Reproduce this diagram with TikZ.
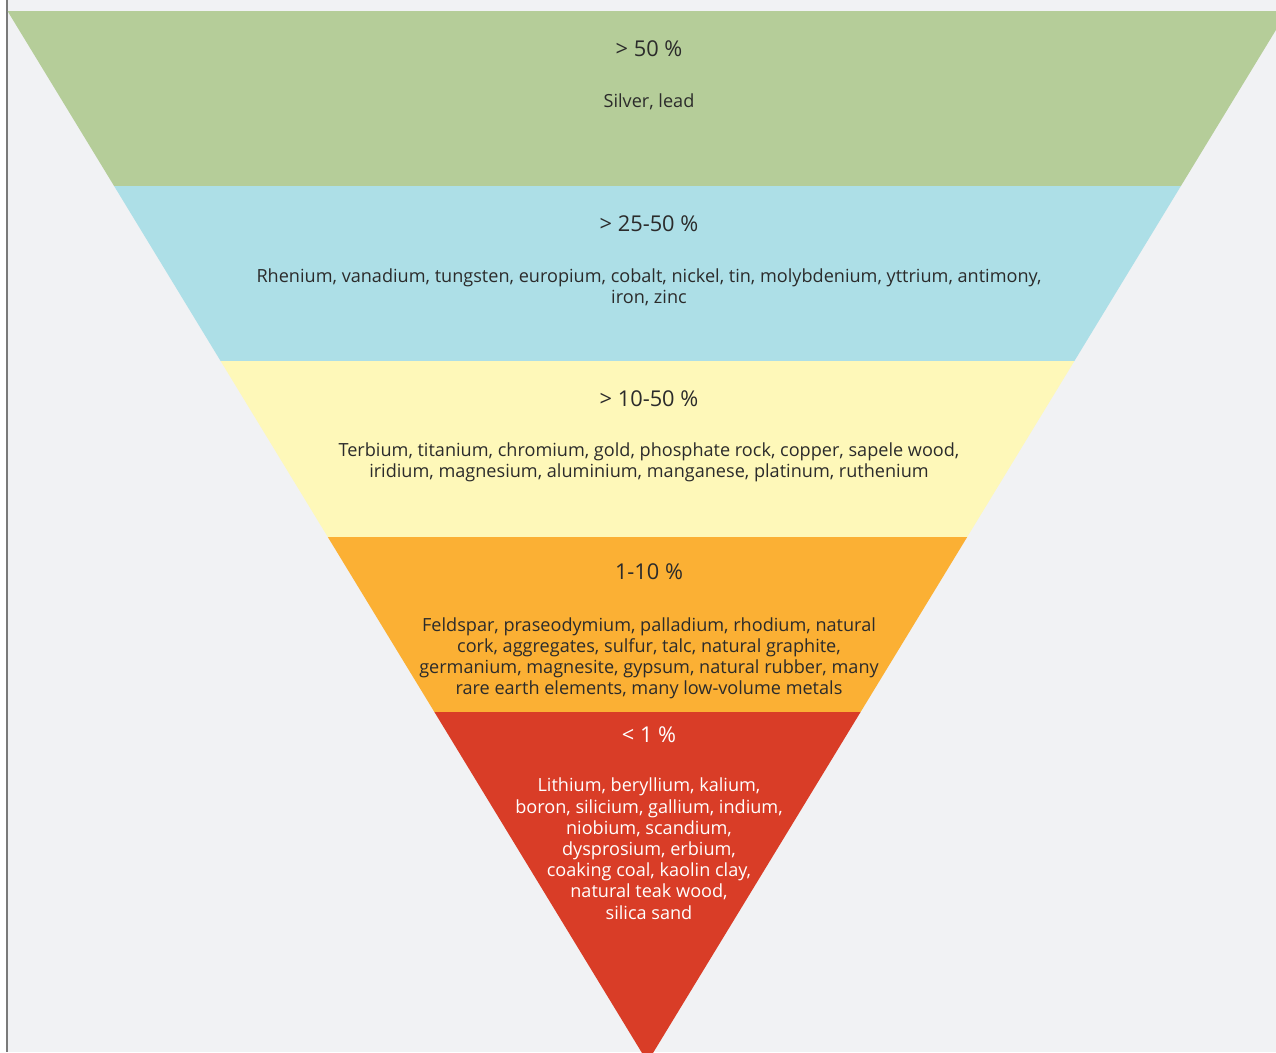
\documentclass[tikz,border=0pt]{standalone}
\usepackage{fontspec}
\setmainfont{Open Sans}
\definecolor{bgc}{HTML}{F1F2F4}
\definecolor{edgec}{HTML}{7A7A7A}
\definecolor{bandA}{HTML}{B5CD99}
\definecolor{bandB}{HTML}{ADDFE7}
\definecolor{bandC}{HTML}{FEF8B9}
\definecolor{bandD}{HTML}{FBB034}
\definecolor{bandE}{HTML}{D93D27}
\definecolor{txt}{HTML}{2B2B2B}
\tikzset{
  ttl/.style={font=\fontsize{21.8}{24}\selectfont, text=txt, inner sep=0pt, anchor=base},
  body/.style={font=\fontsize{18.1}{21.2}\selectfont, text=txt, inner sep=0pt, anchor=north, align=center},
}
\begin{document}
\begin{tikzpicture}[x=1pt,y=-1pt]
\useasboundingbox (0,0) rectangle (1276,1052);
\fill[white] (0,0) rectangle (1276,1052);
\fill[bgc] (7,0) rectangle (1276,1052);
\draw[edgec, line width=1.5pt] (7,0) -- (7,1052);
\begin{scope}
\clip (7.8,0) rectangle (1276,1052);
\fill[bandA] (7.5,11) -- (1287.5,11) -- (1180.9,186) -- (114.1,186) -- cycle;
\fill[bandB] (114.1,186) -- (1180.9,186) -- (1074.4,361) -- (220.6,361) -- cycle;
\fill[bandC] (220.6,361) -- (1074.4,361) -- (967.2,537) -- (327.8,537) -- cycle;
\fill[bandD] (327.8,537) -- (967.2,537) -- (860.6,712) -- (434.4,712) -- cycle;
\fill[bandE] (434.4,712) -- (860.6,712) -- (647.5,1062) -- cycle;
\end{scope}
\node[ttl] (t1) at (649,56) {> 50 \%};
\node[body] (b1) at (649,92) {\rule{0pt}{15pt}Silver, lead};
\node[ttl] (t2) at (649,231.5) {> 25-50 \%};
\node[body] (b2) at (649,267.3) {\rule{0pt}{15pt}Rhenium, vanadium, tungsten, europium, cobalt, nickel, tin, molybdenium, yttrium, antimony,\\ iron, zinc};
\node[ttl] (t3) at (649,406) {> 10-50 \%};
\node[body] (b3) at (649,441) {\rule{0pt}{15pt}Terbium, titanium, chromium, gold, phosphate rock, copper, sapele wood,\\ iridium, magnesium, aluminium, manganese, platinum, ruthenium};
\node[ttl] (t4) at (649,579) {1-10 \%};
\node[body] (b4) at (649,616) {\rule{0pt}{15pt}Feldspar, praseodymium, palladium, rhodium, natural\\ cork, aggregates, sulfur, talc, natural graphite,\\ germanium, magnesite, gypsum, natural rubber, many\\ rare earth elements, many low-volume metals};
\node[ttl, text=white] (t5) at (649,742) {< 1 \%};
\node[body, text=white] (b5) at (649,776.7) {\rule{0pt}{15pt}Lithium, beryllium, kalium,\\ boron, silicium, gallium, indium,\\ niobium, scandium,\\ dysprosium, erbium,\\ coaking coal, kaolin clay,\\ natural teak wood,\\ silica sand};
\end{tikzpicture}
\end{document}
